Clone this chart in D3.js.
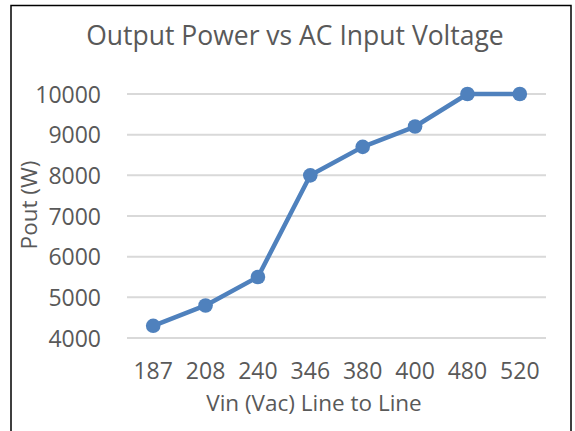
<!DOCTYPE html>
<html>
<head>
<meta charset="utf-8">
<script src="https://cdn.jsdelivr.net/npm/d3@7"></script>
<style>
  body { margin: 0; background: #fff; }
  text { font-family: "Open Sans", sans-serif; fill: #595959; }
</style>
</head>
<body>
<div id="chart"></div>
<script>
// data
var voltages = ["187", "208", "240", "346", "380", "400", "480", "520"];
var powerOut = [4300, 4800, 5500, 8000, 8700, 9200, 10000, 10000];
var yTicks = [4000, 5000, 6000, 7000, 8000, 9000, 10000];

var svgWidth = 575;
var svgHeight = 431;

var margin = { top: 94, right: 29, bottom: 93, left: 127 };
var width = svgWidth - margin.left - margin.right;
var height = svgHeight - margin.top - margin.bottom;

var svg = d3.select("#chart")
  .append("svg")
  .attr("width", svgWidth)
  .attr("height", svgHeight);

// chart border
svg.append("rect")
  .attr("x", 11)
  .attr("y", 5.5)
  .attr("width", 560)
  .attr("height", 440)
  .attr("fill", "none")
  .attr("stroke", "#000")
  .attr("stroke-width", 1.5);

var chartGroup = svg.append("g")
  .attr("transform", `translate(${margin.left}, ${margin.top})`);

var xScale = d3.scaleBand()
  .domain(voltages)
  .range([0, width]);

var yScale = d3.scaleLinear()
  .domain([4000, 10000])
  .range([height, 0]);

// gridlines
chartGroup.append("g")
  .selectAll("line")
  .data(yTicks)
  .enter()
  .append("line")
  .attr("x1", 0)
  .attr("x2", width)
  .attr("y1", d => yScale(d))
  .attr("y2", d => yScale(d))
  .attr("stroke", "#d9d9d9")
  .attr("stroke-width", 2);

// y axis labels
var leftAxis = d3.axisLeft(yScale)
  .tickValues(yTicks)
  .tickFormat(d3.format("d"))
  .tickSize(0)
  .tickPadding(26);
var yAxis = chartGroup.append("g").call(leftAxis);
yAxis.select(".domain").remove();
yAxis.selectAll("text")
  .style("font-size", "23px")
  .attr("dy", "0.36em");

// x axis labels
var bottomAxis = d3.axisBottom(xScale).tickSize(0).tickPadding(25);
var xAxis = chartGroup.append("g")
  .attr("transform", `translate(0, ${height})`)
  .call(bottomAxis);
xAxis.select(".domain").remove();
xAxis.selectAll("text")
  .style("font-size", "23px");

// line + markers
var line = d3.line()
  .x((d, i) => xScale(voltages[i]) + xScale.bandwidth() / 2)
  .y(d => yScale(d));

chartGroup.append("path")
  .datum(powerOut)
  .attr("d", line)
  .attr("fill", "none")
  .attr("stroke", "#4f81bd")
  .attr("stroke-width", 4.5)
  .attr("stroke-linejoin", "round");

chartGroup.selectAll("circle")
  .data(powerOut)
  .enter()
  .append("circle")
  .attr("cx", (d, i) => xScale(voltages[i]) + xScale.bandwidth() / 2)
  .attr("cy", d => yScale(d))
  .attr("r", 7.3)
  .attr("fill", "#4f81bd");

// titles
svg.append("text")
  .attr("x", 295)
  .attr("y", 45)
  .attr("text-anchor", "middle")
  .style("font-size", "26.5px")
  .text("Output Power vs AC Input Voltage");

svg.append("text")
  .attr("x", 314)
  .attr("y", 411)
  .attr("text-anchor", "middle")
  .style("font-size", "22.5px")
  .text("Vin (Vac) Line to Line");

svg.append("text")
  .attr("transform", "translate(37, 205) rotate(-90)")
  .attr("text-anchor", "middle")
  .style("font-size", "22.5px")
  .text("Pout (W)");
</script>
</body>
</html>
